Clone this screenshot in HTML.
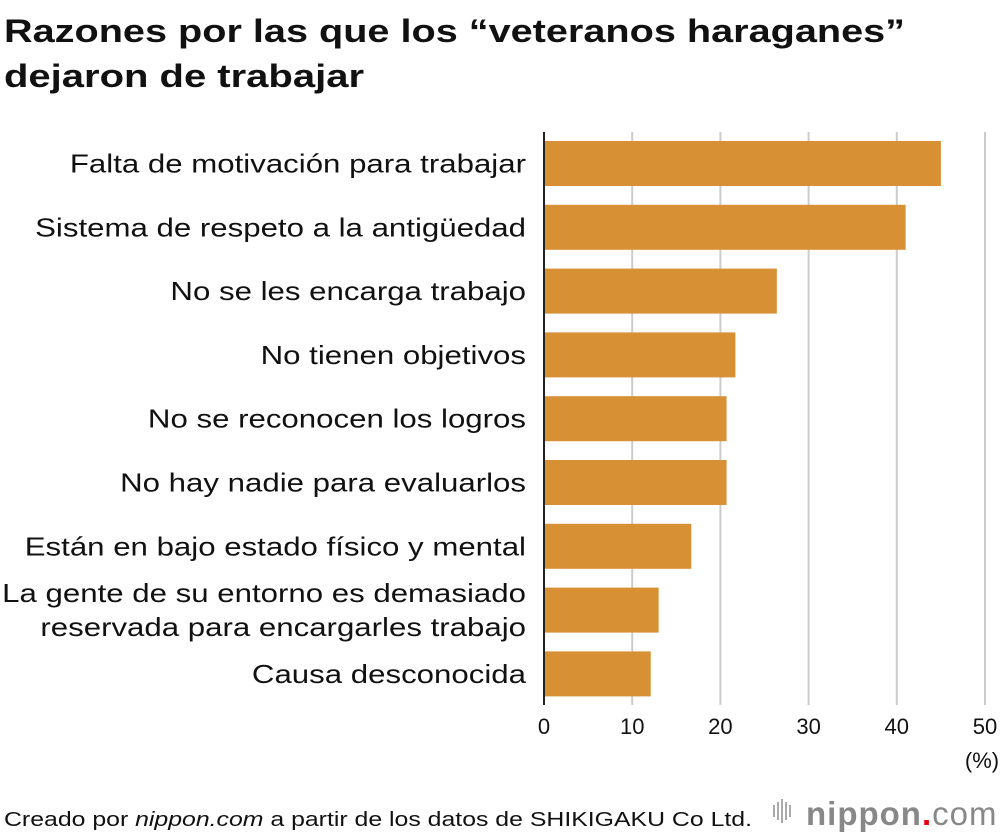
<!DOCTYPE html>
<html><head><meta charset="utf-8"><style>
body{margin:0;background:#fff;font-family:"Liberation Sans",sans-serif;}
svg{display:block}
</style></head><body>
<svg id="c" width="1000" height="834">
<text class="st" data-w="901" x="4" y="42" font-size="32" font-weight="bold" fill="#111">Razones por las que los “veteranos haraganes”</text>
<text class="st" data-w="360" x="4" y="87" font-size="32" font-weight="bold" fill="#111">dejaron de trabajar</text>
<g id="plot"></g>
<text class="st" data-w="748" x="4" y="826" font-size="20" fill="#111">Creado por <tspan font-style="italic">nippon.com</tspan> a partir de los datos de SHIKIGAKU Co Ltd.</text>
<g>
<g fill="#aaa"><rect x="773" y="805" width="2" height="12"/><rect x="777" y="802" width="2" height="18"/><rect x="781" y="799" width="2" height="24"/><rect x="785" y="802" width="2" height="18"/><rect x="789" y="805" width="2" height="12"/></g>
<text x="806" y="825" font-size="33" fill="#888" font-weight="bold" style="letter-spacing:1px">nippon<tspan fill="#e60012">.</tspan><tspan font-weight="normal">com</tspan></text>
</g>
</svg>
<script>
const categories=["Falta de motivación para trabajar","Sistema de respeto a la antigüedad","No se les encarga trabajo","No tienen objetivos","No se reconocen los logros","No hay nadie para evaluarlos","Están en bajo estado físico y mental","La gente de su entorno es demasiado|reservada para encargarles trabajo","Causa desconocida"];
const values=[45.0,41.0,26.4,21.7,20.7,20.7,16.7,13.0,12.1];
const ticks=[0,10,20,30,40,50];
const NS="http://www.w3.org/2000/svg";
const g=document.getElementById('plot');
const x0=544,pxPer=8.82,top0=141,step=63.8,bh=45;
const xs=v=>x0+v*pxPer;
const ys=i=>top0+i*step;
function mk(t,a){const e=document.createElementNS(NS,t);for(const k in a)e.setAttribute(k,a[k]);g.appendChild(e);return e;}
ticks.forEach(t=>{
 if(t>0){const l=mk('line',{x1:xs(t),x2:xs(t),y1:132,y2:705,stroke:'#cccccc','stroke-width':2});
 
 }
 const tx=mk('text',{x:xs(t),y:734,'font-size':22,'text-anchor':'middle',fill:'#111'});tx.textContent=t;
 
 
});
const u=mk('text',{x:982,y:768,'font-size':22,'text-anchor':'middle',fill:'#111'});u.textContent='(%)';


values.forEach((v,i)=>{
 const r=mk('rect',{x:x0,y:ys(i),width:xs(v)-x0,height:bh,fill:'#d89035'});
 
 
 const lines=categories[i].split('|');const cy=ys(i)+bh/2;
 lines.forEach((s,j)=>{
  const t=mk('text',{x:526,y:cy+9+(j-(lines.length-1)/2)*34,'font-size':26,'text-anchor':'end',fill:'#111'});t.textContent=s;
  t.setAttribute('class','lab');
  
  
 });
});
const ax=mk('line',{x1:x0,x2:x0,y1:132,y2:705,stroke:'#222','stroke-width':2});


document.querySelectorAll('.lab').forEach(t=>{const w=t.getComputedTextLength();t.setAttribute('textLength',w*1.2);t.setAttribute('lengthAdjust','spacingAndGlyphs');});
document.querySelectorAll('.st').forEach(t=>{t.setAttribute('textLength',t.getAttribute('data-w'));t.setAttribute('lengthAdjust','spacingAndGlyphs');});
</script>
</body></html>
